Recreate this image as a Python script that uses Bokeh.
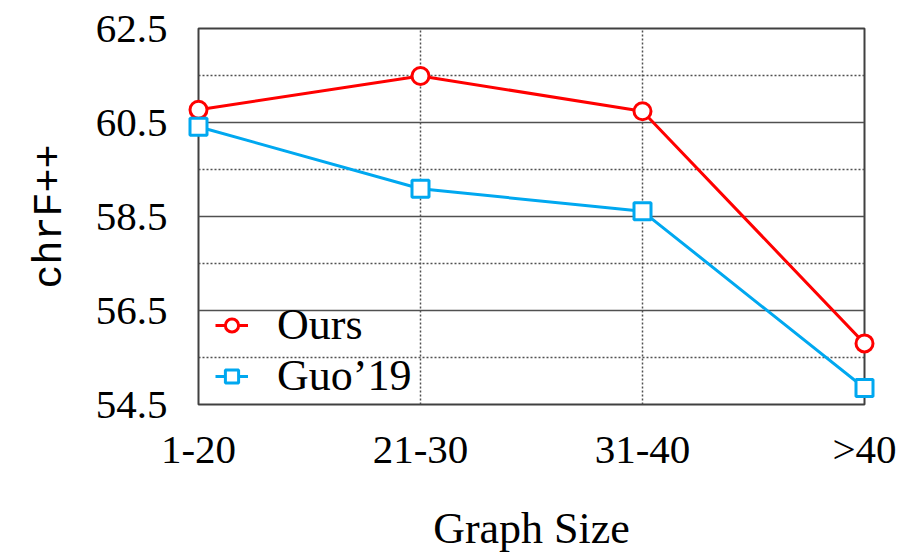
from bokeh.plotting import figure
from bokeh.models import Range1d, FixedTicker, Legend, LegendItem
from bokeh.embed import file_html
from bokeh.resources import INLINE

categories = ["1-20", "21-30", "31-40", ">40"]
ours = [60.77, 61.49, 60.74, 55.80]
guo = [60.41, 59.09, 58.61, 54.85]
y_major = [54.5, 56.5, 58.5, 60.5, 62.5]
y_minor = [55.5, 57.5, 59.5, 61.5]

xs = list(range(len(categories)))

p = figure(width=902, height=555, output_backend="svg", toolbar_location=None,
           x_range=Range1d(0, len(categories) - 1), y_range=Range1d(54.5, 62.5),
           min_border_left=198, min_border_right=38, min_border_top=28, min_border_bottom=151)
p.background_fill_color = "white"
p.border_fill_color = "white"
p.outline_line_color = "#404040"
p.outline_line_width = 2

serif = "Liberation Serif"
mono = "'Nimbus Mono PS', 'Courier New', 'Courier', 'FreeMono', 'Liberation Mono', monospace"

# axes
p.xaxis.ticker = FixedTicker(ticks=xs)
p.xaxis.major_label_overrides = {i: c for i, c in enumerate(categories)}
p.yaxis.ticker = FixedTicker(ticks=y_major)
p.yaxis.major_label_overrides = {v: f"{v:.1f}" for v in y_major}
for ax in (p.xaxis[0], p.yaxis[0]):
    ax.axis_line_color = None
    ax.major_tick_line_color = None
    ax.minor_tick_line_color = None
    ax.major_tick_out = 0
    ax.major_tick_in = 0
    ax.major_label_text_font = serif
    ax.major_label_text_font_size = "41px"
    ax.major_label_text_color = "black"
p.yaxis.major_label_standoff = 31
p.xaxis.major_label_standoff = 21

p.xaxis.axis_label = "Graph Size"
p.xaxis.axis_label_text_font = serif
p.xaxis.axis_label_text_font_size = "44px"
p.xaxis.axis_label_text_font_style = "normal"
p.xaxis.axis_label_text_color = "black"
p.xaxis.axis_label_standoff = 29

p.yaxis.axis_label = "chrF++"
p.yaxis.axis_label_text_font = mono
p.yaxis.axis_label_text_font_size = "40px"
p.yaxis.axis_label_text_font_style = "normal"
p.yaxis.axis_label_text_color = "black"
p.yaxis.axis_label_standoff = 20

# grids
p.ygrid.ticker = FixedTicker(ticks=y_major, minor_ticks=y_minor)
p.ygrid.grid_line_color = "#505050"
p.ygrid.grid_line_width = 1.5
p.ygrid.minor_grid_line_color = "#505050"
p.ygrid.minor_grid_line_width = 1.5
p.ygrid.minor_grid_line_dash = "2 2"
p.xgrid.ticker = FixedTicker(ticks=xs[1:-1])
p.xgrid.grid_line_color = "#505050"
p.xgrid.grid_line_width = 1.5
p.xgrid.grid_line_dash = "2 2"

red = "#FF0000"
blue = "#00A8F0"

l1 = p.line(xs, ours, line_color=red, line_width=3)
s1 = p.scatter(xs, ours, marker="circle", size=17, fill_color="white", line_color=red,
               line_width=3, level="overlay")
l2 = p.line(xs, guo, line_color=blue, line_width=3)
s2 = p.scatter(xs, guo, marker="square", size=17, fill_color="white", line_color=blue,
               line_width=3, level="overlay")

legend = Legend(items=[LegendItem(label="Ours", renderers=[l1, s1]),
                       LegendItem(label="Guo\u201919", renderers=[l2, s2])],
                location=(17, 3))
legend.background_fill_alpha = 0
legend.border_line_alpha = 0
legend.padding = 0
legend.margin = 0
legend.spacing = 0
legend.glyph_width = 33
legend.glyph_height = 40
legend.label_height = 40
legend.label_standoff = 29
legend.label_text_font = serif
legend.label_text_font_size = "44px"
legend.label_text_color = "black"
p.add_layout(legend, "center")

open("out.html", "w").write(file_html(p, INLINE))
